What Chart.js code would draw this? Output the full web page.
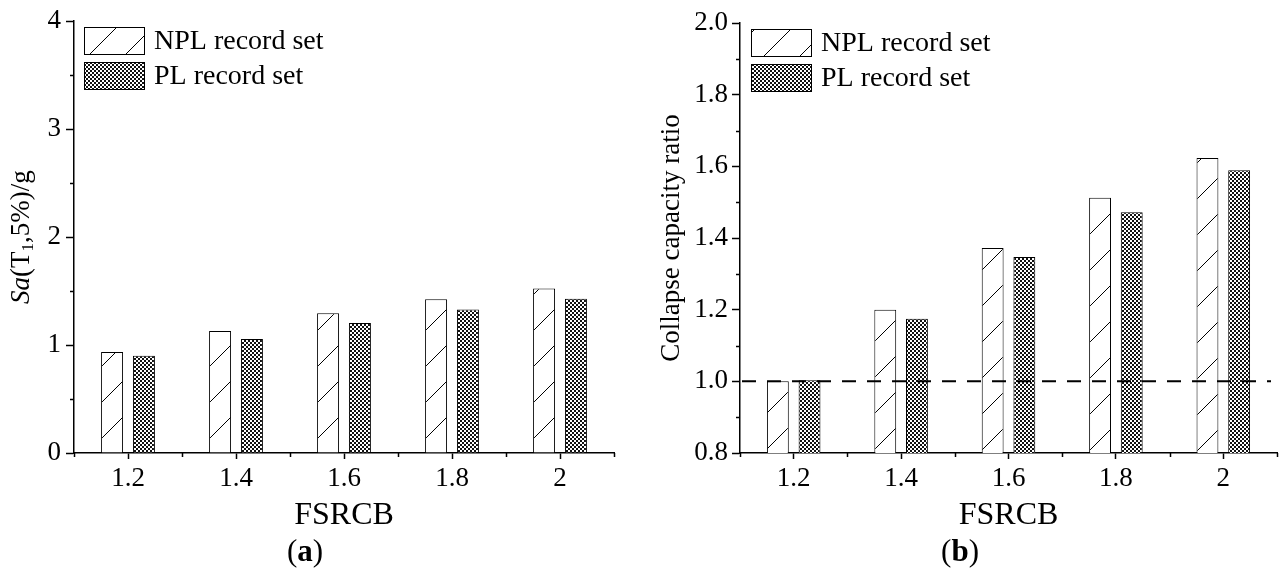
<!DOCTYPE html>
<html>
<head>
<meta charset="utf-8">
<script src="https://cdn.jsdelivr.net/npm/chart.js@4.4.1/dist/chart.umd.min.js"></script>
<style>
  body { margin: 0; background: #fff; }
  #wrap { position: relative; width: 1279px; height: 574px; overflow: hidden; }
  canvas { position: absolute; top: 0; }
  .cap { position: absolute; top: 534px; width: 120px; text-align: center;
         font: 31px 'Liberation Serif', serif; line-height: 34px; color: #000; }
</style>
</head>
<body>
<div id="wrap">
  <canvas id="chartA" width="640" height="574" style="left:0"></canvas>
  <canvas id="chartB" width="639" height="574" style="left:640px"></canvas>
  <div class="cap" style="left:245px">(<b>a</b>)</div>
  <div class="cap" style="left:900px">(<b>b</b>)</div>
</div>
<script>
const FONT = "'Liberation Serif', 'Times New Roman', serif";

// data
const categories = ['1.2', '1.4', '1.6', '1.8', '2'];
const saNPL = [0.935, 1.13, 1.295, 1.425, 1.525];
const saPL = [0.90, 1.055, 1.205, 1.33, 1.43];
const ratioNPL = [1.0, 1.2, 1.372, 1.512, 1.623];
const ratioPL = [1.003, 1.175, 1.347, 1.472, 1.589];
const seriesNames = ['NPL record set', 'PL record set'];
const refRatio = 1.0;

function hatchPattern(ctx) {
    const n = 36;
    const c = document.createElement('canvas');
    c.width = n; c.height = n;
    const g = c.getContext('2d');
    g.fillStyle = '#fff';
    g.fillRect(0, 0, n, n);
    g.strokeStyle = '#000';
    g.lineWidth = 1;
    g.beginPath();
    g.moveTo(0, n); g.lineTo(n, 0);
    g.moveTo(-2, 2); g.lineTo(2, -2);
    g.moveTo(n - 2, n + 2); g.lineTo(n + 2, n - 2);
    g.stroke();
    return ctx.createPattern(c, 'repeat');
}

function checkPattern(ctx) {
    const c = document.createElement('canvas');
    c.width = 4; c.height = 4;
    const g = c.getContext('2d');
    g.fillStyle = '#fff';
    g.fillRect(0, 0, 4, 4);
    g.fillStyle = '#111';
    g.fillRect(0, 0, 2, 2);
    g.fillRect(2, 2, 2, 2);
    return ctx.createPattern(c, 'repeat');
}

// small legend drawn at a fixed place inside the plot
const boxLegend = {
    id: 'boxLegend',
    afterDraw(chart, args, opts) {
        const ctx = chart.ctx;
        ctx.save();
        chart.data.datasets.forEach((ds, i) => {
            const y = opts.y + i * 35;
            ctx.fillStyle = ds.backgroundColor;
            ctx.fillRect(opts.x, y, 61, 28);
            ctx.strokeStyle = '#000';
            ctx.lineWidth = 1;
            ctx.strokeRect(opts.x + 0.5, y + 0.5, 60, 27);
            ctx.fillStyle = '#000';
            ctx.font = '28px ' + FONT;
            ctx.textBaseline = 'middle';
            ctx.fillText(ds.label, opts.x + 70, y + 15);
        });
        ctx.restore();
    }
};

// rotated y title with italic and subscript parts
const yTitle = {
    id: 'yTitle',
    afterDraw(chart, args, opts) {
        const ctx = chart.ctx;
        const a = chart.chartArea;
        const fontOf = p => (p.italic ? 'italic ' : '') + (p.sub ? 17 : opts.size) + 'px ' + FONT;
        let total = 0;
        opts.parts.forEach(p => { ctx.font = fontOf(p); total += ctx.measureText(p.text).width; });
        ctx.save();
        ctx.translate(opts.x, (a.top + a.bottom) / 2);
        ctx.rotate(-Math.PI / 2);
        ctx.fillStyle = '#000';
        ctx.textBaseline = 'middle';
        let x = -total / 2;
        opts.parts.forEach(p => {
            ctx.font = fontOf(p);
            ctx.fillText(p.text, x, p.sub ? 7 : 0);
            x += ctx.measureText(p.text).width;
        });
        ctx.restore();
    }
};

// minor tick marks halfway between the major ones
const minorTicks = {
    id: 'minorTicks',
    afterDraw(chart) {
        const ctx = chart.ctx;
        const a = chart.chartArea;
        const xs = chart.scales.x, ys = chart.scales.y;
        ctx.save();
        ctx.strokeStyle = '#000';
        ctx.lineWidth = 1.5;
        ctx.beginPath();
        for (let i = 0; i <= categories.length; i++) {
            const px = Math.round(xs.getPixelForValue(i - 0.5)) + 0.5;
            ctx.moveTo(px, a.bottom); ctx.lineTo(px, a.bottom + 4);
        }
        const t = ys.ticks;
        for (let i = 0; i < t.length - 1; i++) {
            const py = Math.round(ys.getPixelForValue((t[i].value + t[i + 1].value) / 2)) + 0.5;
            ctx.moveTo(a.left, py); ctx.lineTo(a.left - 4, py);
        }
        ctx.stroke();
        ctx.restore();
    }
};

// dashed reference line at ratio 1.0
const refLine = {
    id: 'refLine',
    afterDatasetsDraw(chart, args, opts) {
        if (!opts.show) return;
        const ctx = chart.ctx;
        const a = chart.chartArea;
        const py = chart.scales.y.getPixelForValue(refRatio);
        ctx.save();
        ctx.strokeStyle = '#000';
        ctx.lineWidth = 2;
        ctx.setLineDash([14, 11]);
        ctx.beginPath();
        ctx.moveTo(a.left + 2, py);
        ctx.lineTo(a.right - 6, py);
        ctx.stroke();
        ctx.restore();
    }
};

function makeChart(id, npl, pl, yOpts, legendPos, titleOpts, padLeft, padRight, padTop, showRef) {
    const el = document.getElementById(id);
    const ctx = el.getContext('2d');
    return new Chart(el, {
        type: 'bar',
        data: {
            labels: categories,
            datasets: [
                { label: seriesNames[0], data: npl, backgroundColor: hatchPattern(ctx), borderColor: '#000', borderWidth: 1 },
                { label: seriesNames[1], data: pl, backgroundColor: checkPattern(ctx), borderColor: '#000', borderWidth: 1 }
            ]
        },
        options: {
            responsive: false,
            animation: false,
            layout: { padding: { left: 0, right: padRight, top: padTop, bottom: 39 } },
            datasets: { bar: { categoryPercentage: 0.59, barPercentage: 0.69 } },
            plugins: {
                legend: { display: false },
                tooltip: { enabled: false },
                boxLegend: legendPos,
                yTitle: titleOpts,
                refLine: { show: showRef }
            },
            scales: {
                x: {
                    grid: { offset: false, drawOnChartArea: false, tickLength: 6, tickWidth: 1.5, tickColor: '#000' },
                    border: { color: '#000', width: 1.5 },
                    ticks: { color: '#000', padding: 4, font: { family: FONT, size: 27 } },
                    title: { display: true, text: 'FSRCB', color: '#000', padding: 0, font: { family: FONT, size: 32 } },
                    afterFit(s) { s.height = 82; }
                },
                y: Object.assign({
                    grid: { drawOnChartArea: false, tickLength: 8, tickWidth: 1.5, tickColor: '#000' },
                    border: { color: '#000', width: 1.5 },
                    afterFit(s) { s.width = padLeft; }
                }, yOpts)
            }
        },
        plugins: [boxLegend, yTitle, minorTicks, refLine]
    });
}

makeChart('chartA', saNPL, saPL,
    { min: 0, max: 4, ticks: { stepSize: 1, color: '#000', padding: 5, font: { family: FONT, size: 27 } } },
    { x: 84, y: 27 },
    { x: 22, size: 27, parts: [{ text: 'Sa', italic: true }, { text: '(T' }, { text: '1', sub: true }, { text: ',5%)/g' }] },
    74, 26, 21, false);

makeChart('chartB', ratioNPL, ratioPL,
    { min: 0.8, max: 2.0, ticks: { stepSize: 0.2, color: '#000', padding: 4, font: { family: FONT, size: 27 },
        callback: v => Number(v).toFixed(1) } },
    { x: 111, y: 29 },
    { x: 32, size: 27, parts: [{ text: 'Collapse capacity ratio' }] },
    100, 2, 23, true);
</script>
</body>
</html>
